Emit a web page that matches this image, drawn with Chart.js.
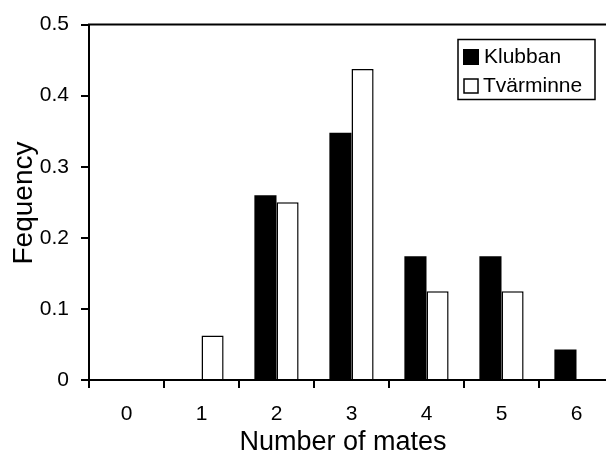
<!DOCTYPE html>
<html>
<head>
<meta charset="utf-8">
<script src="https://cdn.jsdelivr.net/npm/chart.js@4.4.0/dist/chart.umd.min.js"></script>
<style>
  html, body { margin: 0; padding: 0; background: #fff; overflow: hidden; }
  #wrap { width: 606px; height: 455px; overflow: hidden; }
</style>
</head>
<body>
<div id="wrap"><canvas id="grafico" width="630" height="455"></canvas></div>
<script>
// datos
const categorias = ['0', '1', '2', '3', '4', '5', '6'];
const klubban = [0, 0, 0.26, 0.348, 0.174, 0.174, 0.043];
const tvarminne = [0, 0.0625, 0.25, 0.4375, 0.125, 0.125, 0];
const nombres = ['Klubban', 'Tvärminne'];
const yTicks = ['0', '0.1', '0.2', '0.3', '0.4', '0.5'];

const fuente = 'Liberation Sans, Arial, Helvetica, sans-serif';

// titulos, marco superior y leyenda dibujados a mano
const extras = {
  id: 'extras',
  afterDraw(chart) {
    const ctx = chart.ctx;
    const area = chart.chartArea;
    ctx.save();
    ctx.strokeStyle = '#000';
    ctx.lineWidth = 2;
    ctx.beginPath();
    ctx.moveTo(area.left - 1, area.top);
    ctx.lineTo(area.right, area.top);
    ctx.lineTo(area.right, area.bottom);
    ctx.stroke();

    ctx.fillStyle = '#000';
    ctx.font = '27px ' + fuente;
    ctx.textAlign = 'center';
    ctx.textBaseline = 'middle';
    ctx.fillText('Number of mates', 343, 443);

    ctx.translate(24, 203);
    ctx.rotate(-Math.PI / 2);
    ctx.font = '28px ' + fuente;
    ctx.fillText('Fequency', 0, 0);
    ctx.restore();

    // leyenda
    ctx.save();
    ctx.lineWidth = 1.5;
    ctx.strokeStyle = '#000';
    ctx.strokeRect(458, 39.5, 137, 60);
    ctx.font = '21px ' + fuente;
    ctx.textAlign = 'left';
    ctx.textBaseline = 'middle';
    ctx.fillStyle = '#000';
    ctx.fillRect(463, 49, 16, 16);
    ctx.fillText(nombres[0], 484, 57);
    ctx.fillStyle = '#fff';
    ctx.fillRect(464, 79, 14, 14);
    ctx.strokeRect(464, 79, 14, 14);
    ctx.fillStyle = '#000';
    ctx.fillText(nombres[1], 483, 86);
    ctx.restore();
  }
};

const ctx = document.getElementById('grafico').getContext('2d');
new Chart(ctx, {
  type: 'bar',
  data: {
    labels: categorias,
    datasets: [
      {
        label: nombres[0],
        data: klubban,
        backgroundColor: '#000',
        borderColor: '#000',
        borderWidth: 0,
        categoryPercentage: 0.59,
        barPercentage: 1
      },
      {
        label: nombres[1],
        data: tvarminne,
        backgroundColor: '#fff',
        borderColor: '#000',
        borderWidth: 1.5,
        categoryPercentage: 0.59,
        barPercentage: 1
      }
    ]
  },
  options: {
    responsive: false,
    animation: false,
    layout: { padding: { left: 0, right: 16, top: 22, bottom: 0 } },
    plugins: {
      legend: { display: false },
      tooltip: { enabled: false }
    },
    scales: {
      x: {
        offset: true,
        grid: {
          offset: true,
          drawOnChartArea: false,
          drawTicks: true,
          tickLength: 8,
          color: '#000',
          lineWidth: 2
        },
        border: { display: true, color: '#000', width: 2 },
        ticks: {
          color: '#000',
          padding: 14,
          font: { size: 21, family: fuente }
        },
        afterFit: s => { s.height = 75; }
      },
      y: {
        min: 0,
        max: 0.5,
        ticks: {
          stepSize: 0.1,
          color: '#000',
          padding: 12,
          font: { size: 21, family: fuente },
          callback: (v, i) => yTicks[i]
        },
        grid: {
          drawOnChartArea: false,
          drawTicks: true,
          tickLength: 8,
          color: '#000',
          lineWidth: 2
        },
        border: { display: true, color: '#000', width: 2 },
        afterFit: s => { s.width = 89; }
      }
    }
  },
  plugins: [extras]
});
</script>
</body>
</html>
